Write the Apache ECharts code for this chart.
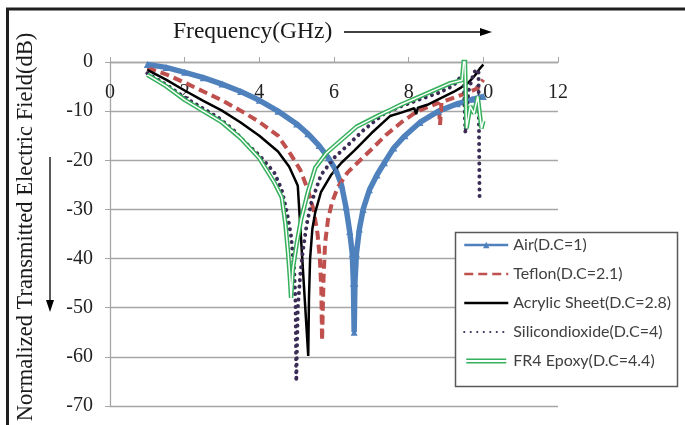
<!DOCTYPE html>
<html><head><meta charset="utf-8">
<script src="https://cdn.jsdelivr.net/npm/echarts@6/dist/echarts.min.js"></script>
<style>html,body{margin:0;padding:0;background:#fff}#c{width:685px;height:425px}</style>
</head><body><div id="c"></div>
<script>
// ---- data ----
const seriesNames = ['Air(D.C=1)', 'Teflon(D.C=2.1)', 'Acrylic Sheet(D.C=2.8)', 'Silicondioxide(D.C=4)', 'FR4 Epoxy(D.C=4.4)'];
const xTicks = [0, 2, 4, 6, 8, 10, 12];
const yTicks = [-70, -60, -50, -40, -30, -20, -10, 0];

const airF  = [1.0,1.5,2.0,2.5,3.0,3.5,4.0,4.5,5.0,5.3,5.6,5.85,6.05,6.2,6.32,6.42,6.49,6.52,6.54,6.56,6.6,6.68,6.78,6.95,7.15,7.35,7.6,7.9,8.3,8.8,9.3,9.7,10.0];
const airDb = [-0.5,-1.1,-2.1,-3.2,-4.5,-6.0,-7.8,-10.0,-12.6,-14.6,-17.0,-19.5,-22.0,-25.0,-29.5,-34.5,-39.0,-45.0,-55.0,-45.0,-39.0,-34.0,-30.0,-26.0,-23.0,-20.5,-17.5,-15.0,-12.3,-10.0,-8.5,-7.6,-7.0];

const tefF  = [1.0,1.5,2.0,2.5,3.0,3.5,4.0,4.5,4.85,5.1,5.3,5.45,5.56,5.62,5.66,5.68,5.72,5.76,5.84,5.95,6.1,6.36,6.7,7.0,7.4,7.8,8.2,8.5,8.8,8.84,8.88,8.92,9.3,9.6,9.83,10.0];
const tefDb = [-1.2,-2.5,-4.2,-6.0,-7.8,-9.9,-12.2,-15.0,-18.9,-22.0,-26.0,-30.0,-35.0,-40.0,-46.0,-56.7,-44.0,-37.0,-32.0,-28.5,-25.5,-22.5,-20.0,-17.8,-14.8,-12.3,-10.2,-9.2,-8.3,-12.8,-8.2,-8.0,-7.0,-6.2,-5.4,-3.6];

const acrF  = [1.0,1.5,2.0,2.5,3.0,3.5,4.0,4.5,4.8,4.95,5.03,5.31,5.33,5.36,5.42,5.5,5.65,5.92,6.2,6.55,7.0,7.5,7.8,8.15,8.2,8.25,8.5,8.85,9.2,9.4,9.6,9.7,9.8,9.9,10.0];
const acrDb = [-1.6,-3.6,-5.8,-7.9,-9.9,-12.3,-15.0,-18.2,-21.3,-23.8,-25.2,-59.8,-48.0,-40.0,-34.0,-30.5,-26.5,-23.0,-20.5,-18.0,-14.5,-11.0,-10.3,-9.4,-10.6,-9.3,-8.7,-7.4,-6.1,-5.2,-4.2,-3.4,-2.5,-1.4,-0.5];

const sioF  = [1.0,1.5,2.0,2.5,2.9,3.3,3.6,4.0,4.4,4.6,4.75,4.85,4.93,4.97,4.99,5.03,5.1,5.16,5.27,5.39,5.65,6.0,6.36,6.8,7.34,7.8,8.3,8.8,9.2,9.47,9.52,9.6,9.75,9.87,9.9];
const sioDb = [-2.3,-4.6,-7.2,-9.5,-11.3,-13.8,-16.2,-19.0,-22.5,-26.0,-31.0,-35.4,-42.0,-49.0,-65.0,-50.0,-43.0,-38.8,-33.0,-28.7,-23.0,-19.5,-17.0,-13.8,-10.5,-9.0,-7.6,-6.3,-4.8,-2.3,-14.5,-6.0,-2.0,-1.6,-28.5];

const fr4F  = [1.0,1.5,2.0,2.5,3.0,3.5,4.0,4.4,4.6,4.7,4.77,4.82,4.85,4.9,5.0,5.12,5.3,5.5,5.8,6.1,6.6,7.16,7.52,7.79,8.4,9.12,9.43,9.5,9.55,9.65,9.75,9.85,9.95,10.0];
const fr4Db = [-2.6,-4.9,-7.7,-10.0,-12.3,-15.5,-19.6,-24.5,-27.5,-33.0,-38.8,-44.0,-48.0,-42.0,-37.0,-32.0,-26.5,-21.5,-18.5,-16.5,-13.2,-11.0,-9.7,-8.7,-6.7,-4.3,-3.7,2.4,-13.5,-9.0,-10.5,-7.0,-13.5,-12.0];

// ---- chart ----
const zip = (a, b) => a.map((v, i) => [v, b[i]]);
const serif = 'Liberation Serif';
const green = '#35b05c';
const chart = echarts.init(document.getElementById('c'), null, { renderer: 'canvas' });

const option = {
  animation: false,
  backgroundColor: '#fff',
  title: {
    text: 'Frequency(GHz)', left: 168, top: 15,
    textStyle: { fontFamily: serif, fontSize: 23.5, fontWeight: 'normal', color: '#1a1a1a' }
  },
  grid: { left: 110, right: 127, top: 62, bottom: 19, containLabel: false, outerBoundsMode: 'none' },
  xAxis: {
    type: 'value', position: 'top', min: xTicks[0], max: xTicks[xTicks.length - 1], interval: 2,
    axisLine: { onZero: false, lineStyle: { color: '#a6a6a6', width: 1.3 } },
    axisTick: { show: true, inside: false, length: 5, lineStyle: { color: '#a6a6a6' } },
    axisLabel: { inside: true, margin: 21, fontFamily: serif, fontSize: 20, color: '#222' },
    splitLine: { show: false }
  },
  yAxis: {
    type: 'value', min: yTicks[0], max: yTicks[yTicks.length - 1], interval: 10,
    name: 'Normalized Transmitted Electric Field(dB)',
    nameLocation: 'middle', nameGap: 72, nameRotate: 90,
    nameTextStyle: { fontFamily: serif, fontSize: 22.5, color: '#1a1a1a', padding: [0, 0, 0, 14] },
    axisLine: { show: true, lineStyle: { color: '#a6a6a6', width: 1.3 } },
    axisTick: { show: true, length: 5, lineStyle: { color: '#a6a6a6' } },
    axisLabel: { margin: 17, fontFamily: serif, fontSize: 20, color: '#222' },
    splitLine: { show: true, lineStyle: { color: '#a6a6a6', width: 1.3 } }
  },
  legend: {
    orient: 'vertical', left: 463, top: 237, padding: 0,
    itemWidth: 44, itemHeight: 8, itemGap: 13, z: 60,
    textStyle: { fontFamily: 'Lato', fontSize: 16, color: '#404040' },
    data: [
      { name: seriesNames[0], lineStyle: { width: 2.5 } },
      { name: seriesNames[1], lineStyle: { width: 2.5 }, itemStyle: { opacity: 0 } },
      { name: seriesNames[2], lineStyle: { width: 2.5 }, itemStyle: { opacity: 0 } },
      { name: seriesNames[3], lineStyle: { width: 2.2 }, itemStyle: { opacity: 0 } },
      { name: seriesNames[4], icon: 'path://M2,0H42Z M2,1.5H42V3H2Z M2,5H42V6.5H2Z M2,8H42Z', itemStyle: { color: green, borderWidth: 0 } }
    ]
  },
  graphic: [
    { type: 'polyline', shape: { points: [[7.5, 425], [7.5, 9], [685, 9]] }, style: { stroke: '#1f1f1f', lineWidth: 3, fill: null } },
    { type: 'line', shape: { x1: 344, y1: 32, x2: 482, y2: 32 }, style: { stroke: '#000', lineWidth: 1.3 } },
    { type: 'polygon', shape: { points: [[480, 28], [492, 32], [480, 36]] }, style: { fill: '#000' } },
    { type: 'line', shape: { x1: 50, y1: 157, x2: 50, y2: 302 }, style: { stroke: '#000', lineWidth: 1.3 } },
    { type: 'polygon', shape: { points: [[46, 300], [50, 312], [54, 300]] }, style: { fill: '#000' } },
    { type: 'rect', z: 50, shape: { x: 455.5, y: 232.5, width: 222, height: 154 }, style: { fill: '#fff', stroke: '#595959', lineWidth: 1.5 } }
  ],
  series: [
    {
      name: seriesNames[0], type: 'line', data: zip(airF, airDb),
      symbol: 'triangle', symbolSize: 7, showSymbol: true,
      itemStyle: { color: '#4f81bd' }, lineStyle: { color: '#4f81bd', width: 5.5 }
    },
    {
      name: seriesNames[1], type: 'line', data: zip(tefF, tefDb), symbol: 'none',
      itemStyle: { color: '#c0504d' }, lineStyle: { color: '#c0504d', width: 4, type: [9, 5] }
    },
    {
      name: seriesNames[2], type: 'line', data: zip(acrF, acrDb), symbol: 'none',
      itemStyle: { color: '#000' }, lineStyle: { color: '#000', width: 2.5 }
    },
    {
      name: seriesNames[3], type: 'line', data: zip(sioF, sioDb), symbol: 'none',
      itemStyle: { color: '#3b2c55' }, lineStyle: { color: '#3b2c55', width: 4, type: [0.01, 6.5], cap: 'round' }
    },
    {
      name: seriesNames[4], type: 'line', data: zip(fr4F, fr4Db), symbol: 'none',
      itemStyle: { color: green }, lineStyle: { color: green, width: 4.5 }
    },
    {
      name: 'FR4 core', type: 'line', data: zip(fr4F, fr4Db), symbol: 'none', silent: true,
      itemStyle: { color: '#fff' }, lineStyle: { color: '#fff', width: 1.5 }
    }
  ]
};
chart.setOption(option);
</script>
</body></html>
